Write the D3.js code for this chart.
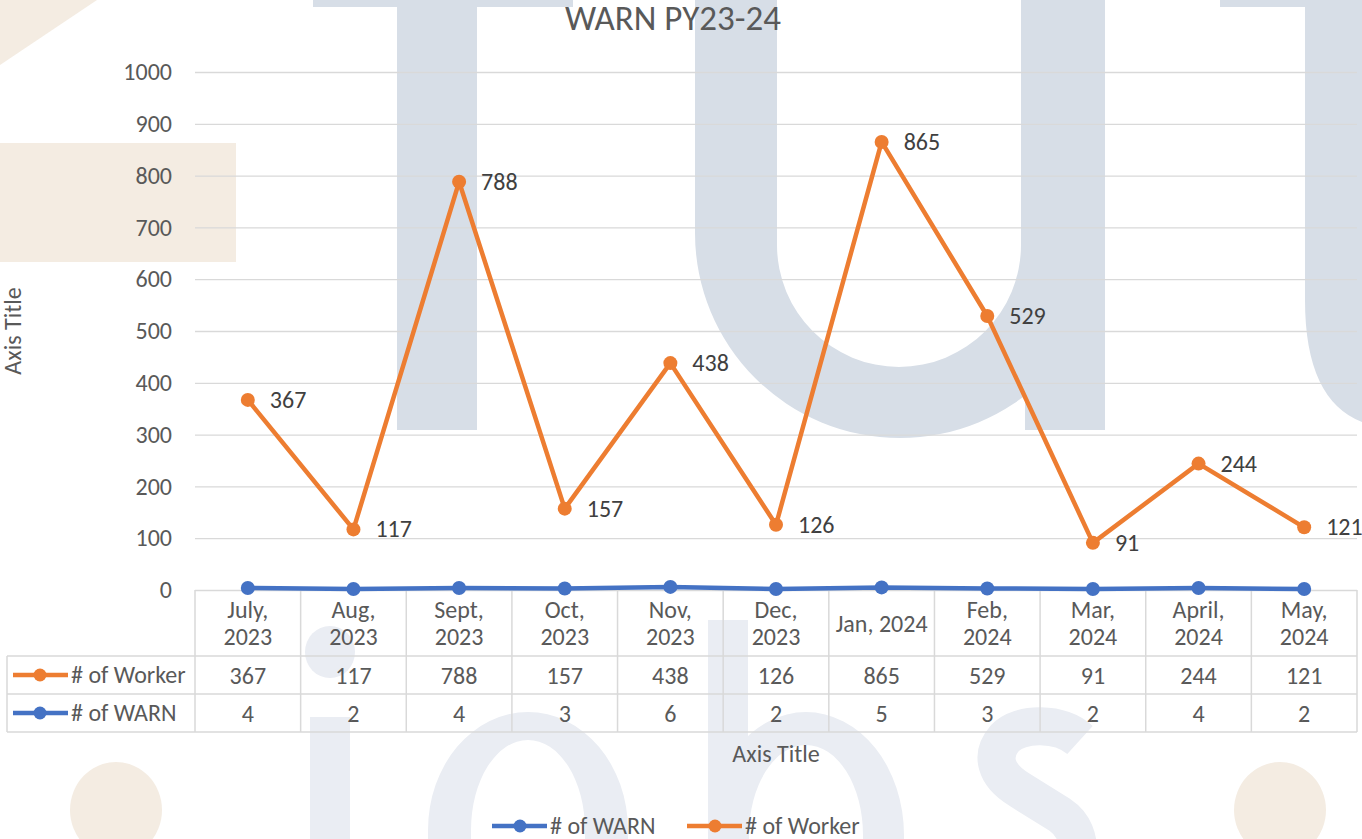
<!DOCTYPE html>
<html>
<head>
<meta charset="utf-8">
<script src="https://cdn.jsdelivr.net/npm/d3@7"></script>
<style>
  body { margin: 0; background: #fff; }
  svg { display: block; font-family: Carlito, Calibri, Lato, sans-serif; }
</style>
</head>
<body>
<script>
// chart data
let months = ["July,\n2023", "Aug,\n2023", "Sept,\n2023", "Oct,\n2023", "Nov,\n2023", "Dec,\n2023",
  "Jan, 2024", "Feb,\n2024", "Mar,\n2024", "April,\n2024", "May,\n2024"];
let workers = [367, 117, 788, 157, 438, 126, 865, 529, 91, 244, 121];
let warns = [4, 2, 4, 3, 6, 2, 5, 3, 2, 4, 2];
let yTicks = [0, 100, 200, 300, 400, 500, 600, 700, 800, 900, 1000];

let series = [
  { name: "# of Worker", values: workers, color: "#ed7d31" },
  { name: "# of WARN", values: warns, color: "#4472c4" }
];

let svg = d3.select("body").append("svg")
  .attr("width", 1362)
  .attr("height", 839);

let width = +svg.attr("width");
let height = +svg.attr("height");

let margin = { top: 72, right: 5, bottom: 249, left: 195 };
let innerWidth = width - margin.left - margin.right;
let innerHeight = height - margin.top - margin.bottom;

let textColor = "#595959";
let gridColor = "#d9d9d9";
let fs = 24; //main text size

/* watermark behind the chart */
let wm = svg.append("g");
let blueGray = "#d7dee7";
let paleBlue = "#eaedf3";
let beige = "#f4ece2";

wm.append("path").attr("fill", beige).attr("d", "M0,0 L97,0 L0,65 Z");
wm.append("rect").attr("fill", beige).attr("x", 0).attr("y", 143).attr("width", 236).attr("height", 119);
wm.append("rect").attr("fill", blueGray).attr("x", 313).attr("y", 0).attr("width", 260).attr("height", 7);
wm.append("rect").attr("fill", blueGray).attr("x", 397).attr("y", 0).attr("width", 80).attr("height", 430);
wm.append("path").attr("fill", blueGray)
  .attr("d", "M695,0 L695,233 A205,205 0 0 0 1105,233 L1105,0 L1021,0 L1021,245 A122,122 0 0 1 777,245 L777,0 Z");
wm.append("rect").attr("fill", blueGray).attr("x", 1025).attr("y", 0).attr("width", 80).attr("height", 430);
wm.append("path").attr("fill", blueGray)
  .attr("d", "M1220,0 L1362,0 L1362,422 Q1305,400 1305,300 L1305,7 L1220,7 Z");

// bottom letters
wm.append("ellipse").attr("fill", paleBlue).attr("cx", 330).attr("cy", 652).attr("rx", 25).attr("ry", 26);
wm.append("rect").attr("fill", paleBlue).attr("x", 310).attr("y", 717).attr("width", 40).attr("height", 130);
wm.append("path").attr("fill", paleBlue).attr("fill-rule", "evenodd")
  .attr("d", "M428,830 A100,118 0 0 1 628,830 L628,850 L428,850 Z M471,850 L471,830 A57,90 0 0 1 585,830 L585,850 Z");
wm.append("rect").attr("fill", paleBlue).attr("x", 708).attr("y", 620).attr("width", 40).attr("height", 230);
wm.append("path").attr("fill", paleBlue).attr("fill-rule", "evenodd")
  .attr("d", "M708,835 A98,123 0 0 1 904,835 L904,850 L708,850 Z M749,850 L749,835 A57,90 0 0 1 863,835 L863,850 Z");
wm.append("path").attr("fill", "none").attr("stroke", paleBlue).attr("stroke-width", 38)
  .attr("d", "M1080,740 C1060,722 1020,722 1005,738 C990,755 995,775 1020,790 L1060,815 C1075,825 1078,840 1078,850");
wm.append("ellipse").attr("fill", beige).attr("cx", 116).attr("cy", 810).attr("rx", 46).attr("ry", 48);
wm.append("ellipse").attr("fill", beige).attr("cx", 1280).attr("cy", 810).attr("rx", 46).attr("ry", 48);

/* scales */
let scaleX = d3.scaleBand()
  .domain(months)
  .range([0, innerWidth])
  .padding(0);
let bw = scaleX.bandwidth();
let cx = (d, i) => scaleX(months[i]) + bw / 2;

let scaleY = d3.scaleLinear()
  .domain([0, 1000])
  .range([innerHeight, 0]);

let g = svg.append("g")
  .attr("transform", `translate(${margin.left}, ${margin.top})`);

let yAxis = d3.axisLeft(scaleY)
  .tickValues(yTicks)
  .tickFormat(d3.format("d"))
  .tickSize(-innerWidth)
  .tickPadding(23);

let yG = g.append("g").call(yAxis);
yG.select(".domain").remove();
yG.selectAll(".tick line").attr("stroke", gridColor).attr("stroke-width", 1.3);
yG.selectAll(".tick text")
  .attr("fill", textColor)
  .attr("font-size", fs)
  .attr("font-family", "Carlito, Calibri, Lato, sans-serif");

/* data table below the plot */
let table = g.append("g").attr("transform", `translate(0, ${innerHeight})`);
let headerH = 66, rowH = 38;
let leftCol = margin.left - 7;

// horizontal lines
[headerH, headerH + rowH, headerH + 2 * rowH].forEach(y => {
  table.append("line")
    .attr("x1", -leftCol).attr("x2", innerWidth)
    .attr("y1", y).attr("y2", y)
    .attr("stroke", gridColor).attr("stroke-width", 1.5);
});
// vertical lines
months.forEach(m => {
  table.append("line")
    .attr("x1", scaleX(m)).attr("x2", scaleX(m))
    .attr("y1", 0).attr("y2", headerH + 2 * rowH)
    .attr("stroke", gridColor).attr("stroke-width", 1.5);
});
table.append("line")
  .attr("x1", innerWidth).attr("x2", innerWidth)
  .attr("y1", 0).attr("y2", headerH + 2 * rowH)
  .attr("stroke", gridColor).attr("stroke-width", 1.5);
table.append("line")
  .attr("x1", -leftCol).attr("x2", -leftCol)
  .attr("y1", headerH).attr("y2", headerH + 2 * rowH)
  .attr("stroke", gridColor).attr("stroke-width", 1.5);

// category labels
months.forEach(m => {
  let lines = m.split("\n");
  let t = table.append("text")
    .attr("text-anchor", "middle")
    .attr("fill", textColor)
    .attr("font-size", fs);
  if (lines.length === 1) {
    t.append("tspan").attr("x", scaleX(m) + bw / 2).attr("y", 42).text(lines[0]);
  } else {
    lines.forEach((l, j) => {
      t.append("tspan").attr("x", scaleX(m) + bw / 2).attr("y", 28 + j * 27).text(l);
    });
  }
});

// value rows with legend keys
series.forEach((s, r) => {
  let rowY = headerH + r * rowH;
  s.values.forEach((v, i) => {
    table.append("text")
      .attr("x", cx(v, i))
      .attr("y", rowY + 28)
      .attr("text-anchor", "middle")
      .attr("fill", textColor)
      .attr("font-size", fs)
      .text(v);
  });
  let key = table.append("g").attr("transform", `translate(${-leftCol}, ${rowY + rowH / 2})`);
  key.append("line").attr("x1", 6).attr("x2", 61).attr("stroke", s.color).attr("stroke-width", 4.5);
  key.append("circle").attr("cx", 33).attr("r", 6.5).attr("fill", s.color);
  key.append("text")
    .attr("x", 64).attr("y", 8)
    .attr("fill", textColor)
    .attr("font-size", fs)
    .text(s.name);
});

/* lines */
let line = d3.line()
  .x((d, i) => cx(d, i))
  .y(d => scaleY(d));

// WARN first so worker line sits on top
[series[1], series[0]].forEach(s => {
  g.append("path")
    .datum(s.values)
    .attr("fill", "none")
    .attr("stroke", s.color)
    .attr("stroke-width", 4.5)
    .attr("stroke-linejoin", "round")
    .attr("d", line);

  g.selectAll(null)
    .data(s.values)
    .enter().append("circle")
    .attr("cx", (d, i) => cx(d, i))
    .attr("cy", d => scaleY(d))
    .attr("r", 7)
    .attr("fill", s.color);
});

// data labels for the worker series
g.selectAll(null)
  .data(workers)
  .enter().append("text")
  .attr("x", (d, i) => cx(d, i) + 22)
  .attr("y", d => scaleY(d) + 8)
  .attr("fill", "#404040")
  .attr("font-size", fs)
  .text(d => d);

/* titles */
svg.append("text")
  .attr("x", 673).attr("y", 30)
  .attr("text-anchor", "middle")
  .attr("fill", textColor)
  .attr("font-size", 35)
  .text("WARN PY23-24");

svg.append("text")
  .attr("transform", "translate(21, 331) rotate(-90)")
  .attr("text-anchor", "middle")
  .attr("fill", textColor)
  .attr("font-size", fs)
  .text("Axis Title");

svg.append("text")
  .attr("x", 776).attr("y", 762)
  .attr("text-anchor", "middle")
  .attr("fill", textColor)
  .attr("font-size", fs)
  .text("Axis Title");

/* legend at the bottom */
let legendItems = [
  { name: "# of WARN", color: "#4472c4", x: 492 },
  { name: "# of Worker", color: "#ed7d31", x: 687 }
];
legendItems.forEach(l => {
  let lg = svg.append("g").attr("transform", `translate(${l.x}, 826)`);
  lg.append("line").attr("x1", 0).attr("x2", 55).attr("stroke", l.color).attr("stroke-width", 4.5);
  lg.append("circle").attr("cx", 28).attr("r", 6.5).attr("fill", l.color);
  lg.append("text").attr("x", 58).attr("y", 8).attr("fill", textColor).attr("font-size", fs).text(l.name);
});
</script>
</body>
</html>
